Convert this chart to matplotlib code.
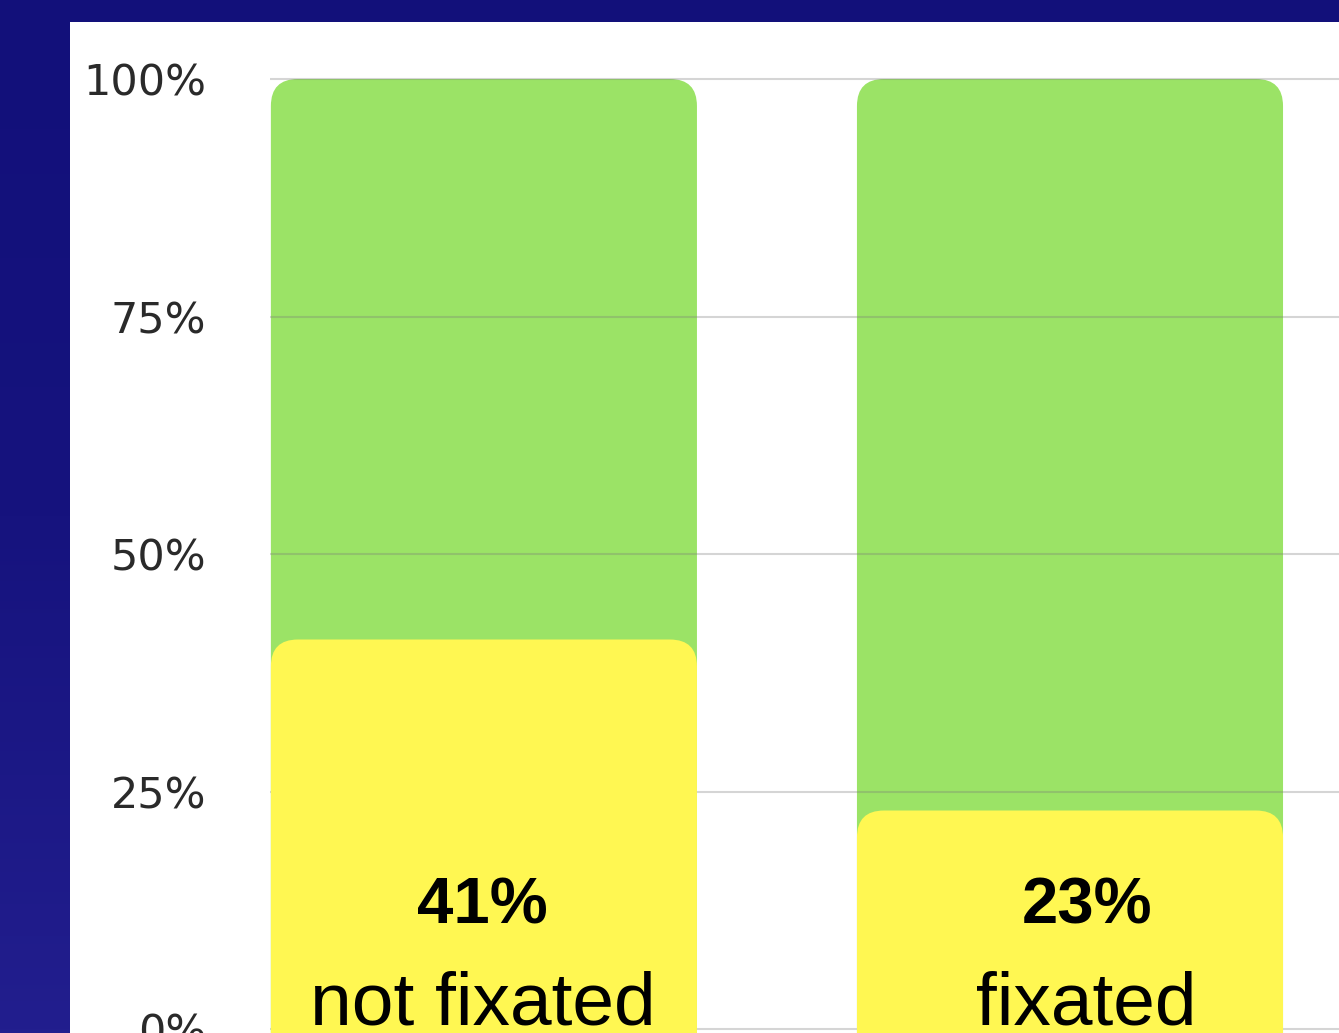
import numpy as np
import matplotlib
matplotlib.use("Agg")
import matplotlib.pyplot as plt
from matplotlib.colors import LinearSegmentedColormap
from matplotlib.patches import FancyBboxPatch, Rectangle

# share of eyes per group, in percent
groups = ["not fixated", "fixated"]
pct_yellow = [41, 23]
pct_total = [100, 100]
ytick_values = [0, 25, 50, 75, 100]

GREEN = "#9BE366"
YELLOW = "#FFF752"


def round_tops(ax, bars, color, radius_px, px_x, px_y, zorder):
    """Swap plain bar rectangles for ones with rounded top corners."""
    for rect in bars:
        x, y = rect.get_x(), rect.get_y()
        w, h = rect.get_width(), rect.get_height()
        rect.set_visible(False)
        # push the bottom below the axis so only the top corners look round
        drop = 10.0
        patch = FancyBboxPatch((x, y - drop), w, h + drop,
                               boxstyle=f"round,pad=0,rounding_size={radius_px / px_x}",
                               mutation_aspect=px_x / px_y,
                               facecolor=color, edgecolor="none", zorder=zorder)
        ax.add_patch(patch)


fig = plt.figure(figsize=(13.39, 10.33), dpi=100)

# dark blue slide background
bg = fig.add_axes([0, 0, 1, 1], zorder=-10)
cmap = LinearSegmentedColormap.from_list("slide", ["#12107A", "#16137E", "#221E8E"])
bg.imshow(np.linspace(0, 1, 256).reshape(-1, 1), aspect="auto", cmap=cmap,
          extent=[0, 1, 0, 1], origin="upper")
bg.set_axis_off()

# white chart panel
fig.patches.append(Rectangle((70 / 1339, 0), 1, 1011 / 1033, transform=fig.transFigure,
                             facecolor="white", edgecolor="none", zorder=-5))

ax = fig.add_axes([270 / 1339, 0, 1 - 270 / 1339, 1011 / 1033])
ax.patch.set_alpha(0)
ax.set_xlim(-0.365, 1.459)
ax.set_ylim(-0.42, 106.0)

# pixels per data unit, used to keep the corner rounding circular
pos = ax.get_position()
px_x = pos.width * 1339 / (1.459 + 0.365)
px_y = pos.height * 1033 / (106.0 + 0.42)

x = np.arange(len(groups))
width = 0.727
green_bars = ax.bar(x, pct_total, width, color=GREEN, zorder=2)
yellow_bars = ax.bar(x, pct_yellow, width, color=YELLOW, zorder=3)
round_tops(ax, green_bars, GREEN, 27, px_x, px_y, 2)
round_tops(ax, yellow_bars, YELLOW, 27, px_x, px_y, 3)

ax.set_yticks(ytick_values)
ax.set_yticklabels([f"{v}%" for v in ytick_values], fontsize=31,
                   family="DejaVu Sans", color="#2A2A2A")
ax.tick_params(axis="y", length=0, pad=46)
ax.set_xticks([])
ax.yaxis.grid(True, color="#777777", alpha=0.3, linewidth=1.5, zorder=4)
ax.set_axisbelow(False)
for s in ax.spines.values():
    s.set_visible(False)

label_dx = [-1, 12]
for xi, p, name, dx in zip(x, pct_yellow, groups, label_dx):
    ax.annotate(f"{p}%", xy=(xi, 0), xytext=(dx, 76), textcoords="offset points",
                ha="center", va="baseline", fontsize=47, fontweight="bold",
                family="Liberation Sans", color="black", zorder=5)
    ax.annotate(name, xy=(xi, 0), xytext=(dx, 3), textcoords="offset points",
                ha="center", va="baseline", fontsize=54,
                family="Liberation Sans", color="black", zorder=5)

fig.savefig("out.png", dpi=100)
